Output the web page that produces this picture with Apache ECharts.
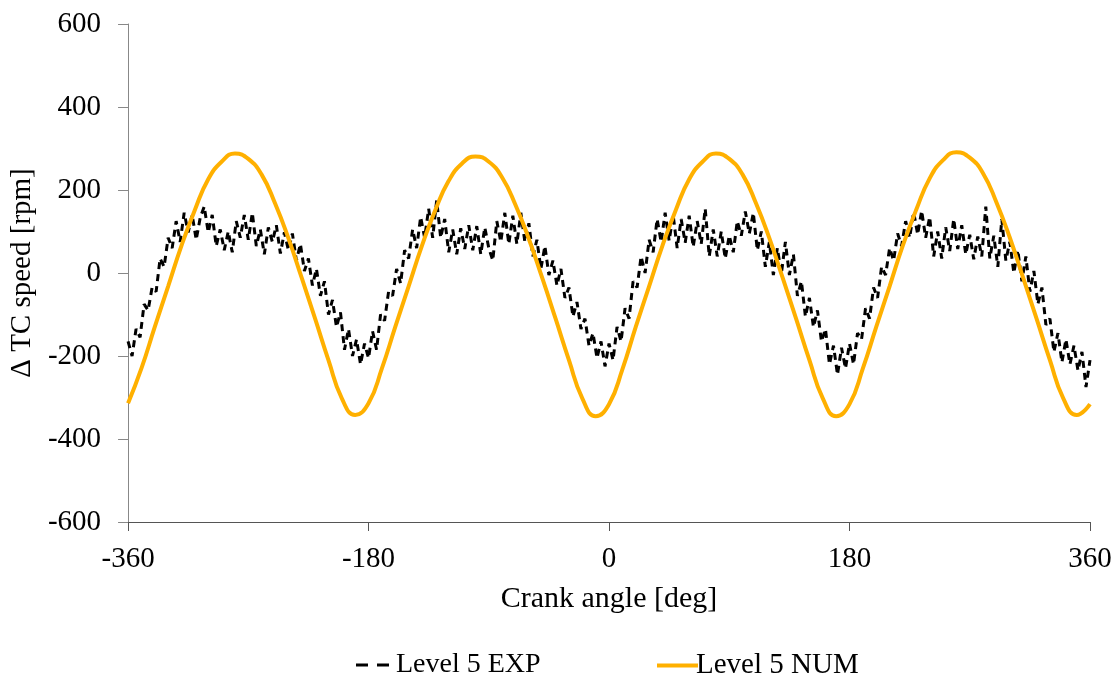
<!DOCTYPE html>
<html>
<head>
<meta charset="utf-8">
<script src="https://cdn.jsdelivr.net/npm/echarts@6/dist/echarts.min.js"></script>
<style>
html,body{margin:0;padding:0;background:#fff;}
#chart{width:1119px;height:675px;}
</style>
</head>
<body>
<div id="chart"></div>
<script>
// X tick labels
const xTicks = [-360, -180, 0, 180, 360];
const yTicks = [-600, -400, -200, 0, 200, 400, 600];

// Level 5 EXP: crank angle -360..360 every 3 deg
const expStartAngle = -360;
const expStepAngle = 3;
const expValues = [
 -165,-200,-135,-155,-75,-90,-35,-45,35,15,
 85,60,125,75,145,98,140,80,133,160,
 98,140,65,105,55,100,50,125,85,140,
 80,145,65,105,45,110,75,115,47,98,
 55,95,30,70,5,35,-30,10,-55,-20,
 -100,-65,-130,-95,-185,-135,-200,-160,-220,-170,
 -205,-140,-185,-100,-115,-45,-55,10,-25,55,
 35,105,60,135,85,155,85,175,85,130,
 50,105,45,108,58,115,55,113,45,110,
 60,30,125,75,145,70,138,70,145,75,
 120,40,80,10,65,-5,30,-30,10,-60,
 -35,-105,-70,-135,-110,-175,-145,-205,-165,-225,
 -170,-210,-130,-165,-85,-110,-20,-35,40,0,
 80,50,130,75,145,78,140,60,130,73,
 138,63,125,70,155,40,105,40,100,35,
 90,50,125,90,148,95,145,55,100,15,
 75,-5,60,-2,75,-5,45,-55,-20,-105,
 -60,-130,-90,-165,-135,-220,-175,-245,-180,-230,
 -170,-220,-145,-160,-85,-110,-35,-60,15,-5,
 60,30,95,65,125,85,147,93,150,85,
 135,40,100,35,110,53,130,58,115,45,
 92,33,88,40,160,35,90,15,130,30,
 75,0,55,-20,40,-45,5,-75,-35,-125,
 -110,-190,-145,-215,-160,-220,-175,-235,-190,-275,
 -210
];

// Level 5 NUM: crank angle -360..360 every 10 deg
const numStartAngle = -360;
const numStepAngle = 10;
const numValues = [
 -314,-230,-130,-32,66,152,226,268,288,275,
 237,168,84,-12,-110,-210,-302,-342,-314,-230,
 -130,-32,66,152,222,264,281,268,230,164,
 82,-12,-110,-210,-302,-345,-316,-232,-130,-32,
 66,152,226,268,288,275,237,168,84,-12,
 -110,-210,-302,-345,-316,-230,-130,-32,67,153,
 228,272,291,278,240,170,85,-12,-110,-210,
 -302,-342,-316
];

const expData = expValues.map((v, i) => [expStartAngle + i * expStepAngle, v]);
const numData = numValues.map((v, i) => [numStartAngle + i * numStepAngle, v]);

const FONT = '"Liberation Serif", "Times New Roman", serif';

const chart = echarts.init(document.getElementById('chart'), null, {renderer: 'canvas'});
chart.setOption({
  backgroundColor: '#ffffff',
  animation: false,
  textStyle: {fontFamily: FONT, color: '#000'},
  grid: {left: 128, right: 29, top: 24, bottom: 153, containLabel: false},
  xAxis: {
    type: 'value',
    min: xTicks[0], max: xTicks[xTicks.length - 1], interval: 180,
    name: 'Crank angle [deg]',
    nameLocation: 'middle',
    nameGap: 62,
    nameTextStyle: {fontFamily: FONT, fontSize: 30, color: '#000'},
    axisLine: {show: true, onZero: false, lineStyle: {color: '#555', width: 1}},
    axisTick: {show: true, inside: false, length: 9, lineStyle: {color: '#555'}},
    axisLabel: {fontFamily: FONT, fontSize: 29, color: '#000', margin: 23},
    splitLine: {show: false}
  },
  yAxis: {
    type: 'value',
    min: yTicks[0], max: yTicks[yTicks.length - 1], interval: 200,
    name: 'Δ TC speed [rpm]',
    nameLocation: 'middle',
    nameGap: 81,
    nameRotate: 90,
    nameTextStyle: {fontFamily: FONT, fontSize: 29, color: '#000'},
    axisLine: {show: true, onZero: false, lineStyle: {color: '#888', width: 1}},
    axisTick: {show: true, inside: false, length: 10, lineStyle: {color: '#888'}},
    axisLabel: {fontFamily: FONT, fontSize: 29, color: '#000', margin: 27},
    splitLine: {show: false}
  },
  legend: [
    {
      data: [{name: 'Level 5 EXP', icon: 'path://M0,0h12v3h-12z M21,0h12v3h-12z'}],
      left: 351, top: 646,
      itemWidth: 33, itemHeight: 3,
      itemStyle: {color: '#000'},
      textStyle: {fontFamily: FONT, fontSize: 28, color: '#000', padding: [0, 0, 0, 2]},
      selectedMode: false
    },
    {
      data: [{name: 'Level 5 NUM', icon: 'path://M0,0h41v4h-41z'}],
      left: 652, top: 646,
      itemWidth: 41, itemHeight: 4,
      itemStyle: {color: '#FFB000'},
      textStyle: {fontFamily: FONT, fontSize: 29, color: '#000', padding: [0, 0, 0, -7]},
      selectedMode: false
    }
  ],
  series: [
    {
      name: 'Level 5 EXP',
      type: 'line',
      data: expData,
      symbol: 'none',
      smooth: false,
      color: '#000',
      lineStyle: {color: '#000', width: 3, type: [7, 5]},
      z: 2
    },
    {
      name: 'Level 5 NUM',
      type: 'line',
      data: numData,
      symbol: 'none',
      smooth: 0.5,
      color: '#FFB000',
      lineStyle: {color: '#FFB000', width: 4},
      z: 3
    }
  ]
});
</script>
</body>
</html>
